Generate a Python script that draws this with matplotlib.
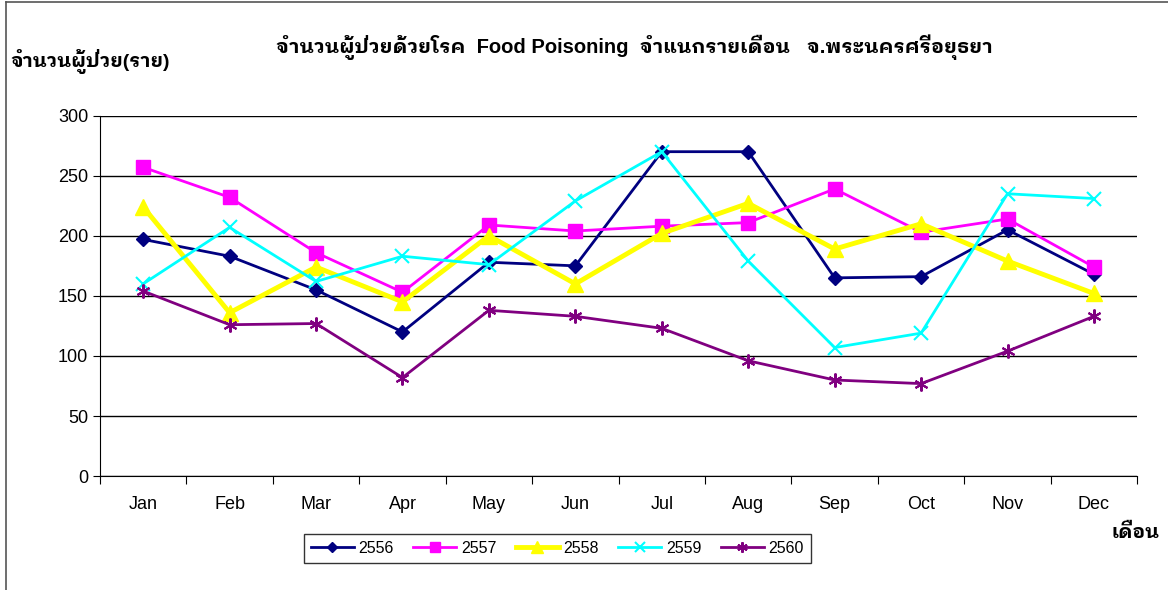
import matplotlib.pyplot as plt
from matplotlib.lines import Line2D

plt.rcParams['font.family'] = ['Liberation Sans', 'IBM Plex Sans Thai Looped', 'Noto Sans Thai Looped', 'DejaVu Sans']

months = ['Jan', 'Feb', 'Mar', 'Apr', 'May', 'Jun', 'Jul', 'Aug', 'Sep', 'Oct', 'Nov', 'Dec']
y2556 = [197, 183, 155, 120, 178, 175, 270, 270, 165, 166, 205, 168]
y2557 = [257, 232, 186, 153, 209, 204, 208, 211, 239, 203, 214, 174]
y2558 = [224, 136, 174, 145, 200, 160, 202, 227, 189, 210, 179, 152]
y2559 = [160, 207, 162, 183, 176, 229, 270, 179, 107, 119, 235, 231]
y2560 = [154, 126, 127, 82, 138, 133, 123, 96, 80, 77, 104, 133]

fig = plt.figure(figsize=(11.68, 5.9), dpi=100)
ax = fig.add_axes([0.0856, 0.193, 0.888, 0.611])

x = range(len(months))
ax.plot(x, y2556, color='#000080', marker='D', markersize=7, linewidth=2, label='2556')
ax.plot(x, y2557, color='#FF00FF', marker='s', markersize=10, linewidth=2, label='2557')
ax.plot(x, y2558, color='#FFFF00', marker='^', markersize=11, linewidth=3.5, label='2558')
ax.plot(x, y2559, color='#00FFFF', marker='x', markersize=10, markeredgewidth=1.5, linewidth=2, label='2559')
ax.plot(x, y2560, color='#800080', marker=(6, 2, 0), markersize=10, markeredgewidth=1.5, linewidth=2, label='2560')

ax.set_xlim(-0.5, 11.5)
ax.set_ylim(0, 300)
ax.set_yticks(range(0, 301, 50))
ax.set_xticks([i - 0.5 for i in range(13)])
ax.set_xticklabels([])
ax.set_xticks(list(x), minor=True)
ax.set_xticklabels(months, minor=True, fontsize=13)
ax.tick_params(axis='x', which='minor', length=0, pad=14)
ax.tick_params(axis='x', which='major', length=6, direction='out')
ax.tick_params(axis='y', labelsize=13, length=5)
ax.grid(axis='y', color='black', linewidth=1)
for s in ['top', 'right']:
    ax.spines[s].set_visible(False)

fig.text(0.543, 0.92, 'จำนวนผู้ป่วยด้วยโรค  Food Poisoning  จำแนกรายเดือน   จ.พระนครศรีอยุธยา',
         ha='center', va='center', fontsize=14.5, fontweight='bold')
fig.text(0.009, 0.895, 'จำนวนผู้ป่วย(ราย)', ha='left', va='center', fontsize=14, fontweight='bold')
fig.text(0.993, 0.097, 'เดือน', ha='right', va='center', fontsize=14, fontweight='bold')

leg = ax.legend(loc='center', bbox_to_anchor=(0.441, -0.2), ncol=5, frameon=True,
                fancybox=False, edgecolor='black', fontsize=11.5, handlelength=2.7,
                columnspacing=1.2, handletextpad=0.3, borderpad=0.45, markerscale=0.75)
leg.get_frame().set_linewidth(1.0)

fig.add_artist(Line2D([0.005, 0.005], [0, 0.997], transform=fig.transFigure, color='#555555', linewidth=1.2))
fig.add_artist(Line2D([0.005, 1], [0.997, 0.997], transform=fig.transFigure, color='#555555', linewidth=1.2))

fig.savefig('out.png', dpi=100)
